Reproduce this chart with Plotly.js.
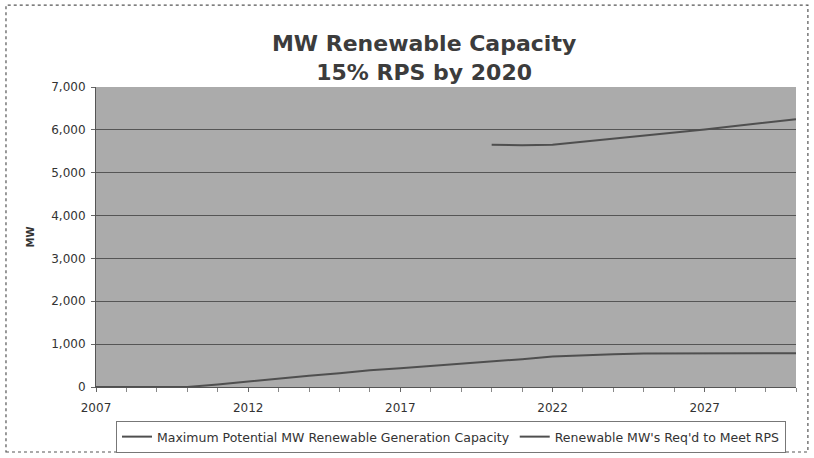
<!DOCTYPE html>
<html>
<head>
<meta charset="utf-8">
<script src="https://cdn.plot.ly/plotly-3.0.1.min.js"></script>
<style>
  html, body { margin: 0; padding: 0; background: #fff; }
  #chart { width: 814px; height: 458px; }
</style>
</head>
<body>
<div id="chart"></div>
<script>
// Years on the horizontal axis
const years = [2007, 2008, 2009, 2010, 2011, 2012, 2013, 2014, 2015, 2016, 2017, 2018,
               2019, 2020, 2021, 2022, 2023, 2024, 2025, 2026, 2027, 2028, 2029, 2030];

// Renewable MW required to meet the RPS (lower series, MW)
const reqdMW = [0, 0, 0, 0, 60, 130, 200, 260, 320, 390, 440, 490,
                540, 590, 650, 710, 740, 765, 780, 785, 790, 790, 790, 790];

// Maximum potential renewable generation capacity (upper series, MW; from 2020)
const maxPotentialMW = [null, null, null, null, null, null, null, null, null, null, null, null,
                        null, 5650, 5640, 5650, 5720, 5790, 5865, 5940, 6010, 6090, 6170, 6245];

const yTickVals = [0, 1000, 2000, 3000, 4000, 5000, 6000, 7000];
const xTickVals = [2007, 2012, 2017, 2022, 2027];

const seriesNames = ["Maximum Potential MW Renewable Generation Capacity",
                     "Renewable MW's Req'd to Meet RPS"];

const lineStyle = { color: "#4f4f4f", width: 2 };

const traces = [
  { x: years, y: maxPotentialMW, name: seriesNames[0], type: "scatter", mode: "lines",
    line: lineStyle, connectgaps: false },
  { x: years, y: reqdMW, name: seriesNames[1], type: "scatter", mode: "lines",
    line: lineStyle }
];

const font = "DejaVu Sans, Verdana, sans-serif";

const layout = {
  width: 814, height: 458,
  margin: { l: 96, r: 18, t: 87, b: 71 },
  paper_bgcolor: "#ffffff",
  plot_bgcolor: "#ababab",
  showlegend: true,
  title: {
    text: "<b>MW Renewable Capacity<br>15% RPS by 2020</b>",
    font: { family: font, size: 22, color: "#3c3c3c" },
    x: 0.521, xanchor: "center",
    y: 1 - 51 / 458, yanchor: "middle", yref: "container"
  },
  xaxis: {
    range: [2007, 2030],
    automargin: false,
    tickvals: xTickVals,
    ticktext: xTickVals.map(String),
    ticks: "outside", ticklen: 4, tickcolor: "#666",
    ticklabelstandoff: 6,
    minor: { dtick: 1, tick0: 2007, ticks: "outside", ticklen: 4, tickcolor: "#888", showgrid: false },
    showgrid: false, zeroline: false,
    showline: true, linecolor: "#555", linewidth: 1,
    tickfont: { family: font, size: 12, color: "#333" }
  },
  yaxis: {
    range: [0, 7000],
    automargin: false,
    tickvals: yTickVals,
    ticktext: yTickVals.map(v => v.toLocaleString("en-US")),
    ticks: "outside", ticklen: 4, tickcolor: "#666",
    ticklabelstandoff: 3,
    showgrid: true, gridcolor: "#555", gridwidth: 1,
    zeroline: false,
    showline: true, linecolor: "#555", linewidth: 1,
    tickfont: { family: font, size: 12, color: "#333" },
    title: { text: "<b>MW</b>", font: { family: font, size: 10, color: "#333" }, standoff: 14 }
  },
  legend: {
    orientation: "h",
    xref: "container", yref: "container",
    x: 451 / 814, xanchor: "center",
    y: 1 - 437 / 458, yanchor: "middle",
    bgcolor: "#ffffff", bordercolor: "#777", borderwidth: 1,
    font: { family: font, size: 12.5, color: "#333" },
    itemwidth: 30, tracegroupgap: 0
  },
  shapes: [
    { type: "rect", xref: "paper", yref: "paper",
      x0: -0.1286, x1: 1.017, y0: -0.2167, y1: 1.273,
      line: { color: "#555", width: 1.2, dash: "dot" }, fillcolor: "rgba(0,0,0,0)", layer: "below" }
  ]
};

Plotly.newPlot("chart", traces, layout, { displayModeBar: false, staticPlot: true });
</script>
</body>
</html>
